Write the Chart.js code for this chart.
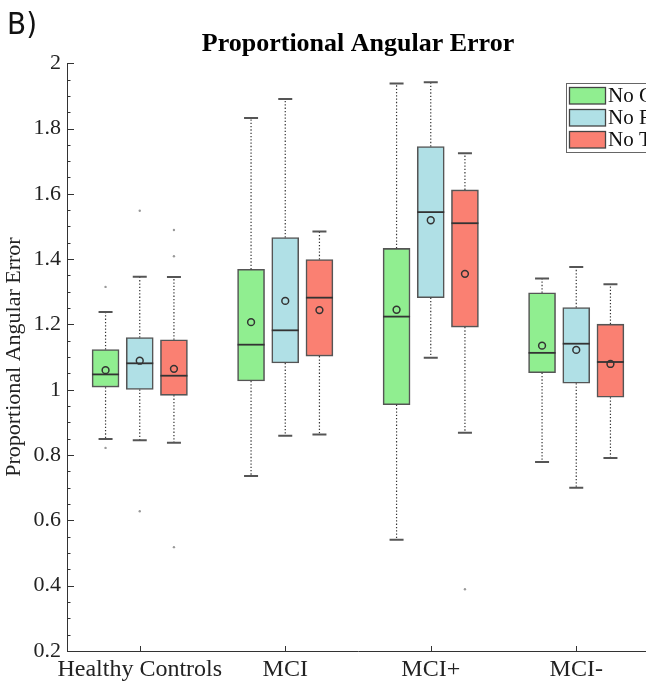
<!DOCTYPE html>
<html>
<head>
<meta charset="utf-8">
<script src="https://cdn.jsdelivr.net/npm/chart.js@4.4.1/dist/chart.umd.min.js"></script>
<style>
  html, body { margin: 0; padding: 0; background: #fff; overflow: hidden; }
  #wrap { width: 652px; height: 684px; }
</style>
</head>
<body>
<div id="wrap"><canvas id="chart"></canvas></div>
<script>
const GROUPS = ["Healthy Controls", "MCI", "MCI+", "MCI-"];
const CONDITIONS = ["No Change", "No Features", "No Texture"];
const COLORS = ["#90EE90", "#B0E0E6", "#FA8072"];
const Y_TICKS = [0.2, 0.4, 0.6, 0.8, 1, 1.2, 1.4, 1.6, 1.8, 2];

// one row per condition, one value per group
const WHISKER_LOW = [
  [0.849, 0.736, 0.541, 0.779],
  [0.845, 0.859, 1.098, 0.700],
  [0.838, 0.863, 0.868, 0.791]
];
const Q1 = [
  [1.008, 1.027, 0.954, 1.052],
  [1.001, 1.082, 1.282, 1.020],
  [0.983, 1.103, 1.192, 0.977]
];
const MEDIAN = [
  [1.047, 1.138, 1.224, 1.113],
  [1.081, 1.182, 1.544, 1.141],
  [1.043, 1.282, 1.510, 1.085]
];
const Q3 = [
  [1.123, 1.369, 1.433, 1.297],
  [1.160, 1.466, 1.745, 1.252],
  [1.153, 1.399, 1.612, 1.201]
];
const WHISKER_HIGH = [
  [1.238, 1.832, 1.938, 1.341],
  [1.346, 1.890, 1.942, 1.376],
  [1.345, 1.485, 1.724, 1.323]
];
const MEAN = [
  [1.060, 1.207, 1.245, 1.135],
  [1.089, 1.272, 1.519, 1.122],
  [1.064, 1.244, 1.355, 1.079]
];
const OUTLIERS = [
  [[1.315, 0.822], [], [], []],
  [[1.548, 0.628], [], [], []],
  [[1.489, 1.409, 0.518], [], [0.389], []]
];

const BOX_STEP = 0.235;   // spacing between boxes inside a group, in x units
const EDGE = "#555";
const INK = "#333";

const boxX = (s, g) => g + 1 + (s - 1) * BOX_STEP;

// whiskers, medians, means and outliers on top of the floating bars
const boxParts = {
  id: "boxParts",
  afterDatasetsDraw(chart) {
    const ctx = chart.ctx, y = chart.scales.y;
    ctx.save();
    chart.data.datasets.forEach((ds, s) => {
      chart.getDatasetMeta(s).data.forEach((bar, g) => {
        const cx = bar.x, half = bar.width / 2;
        const yq1 = y.getPixelForValue(Q1[s][g]), yq3 = y.getPixelForValue(Q3[s][g]);
        const ylo = y.getPixelForValue(WHISKER_LOW[s][g]), yhi = y.getPixelForValue(WHISKER_HIGH[s][g]);

        ctx.strokeStyle = INK; ctx.lineWidth = 1.2; ctx.setLineDash([1.3, 2]);
        ctx.beginPath();
        ctx.moveTo(cx, yq3); ctx.lineTo(cx, yhi);
        ctx.moveTo(cx, yq1); ctx.lineTo(cx, ylo);
        ctx.stroke();
        ctx.setLineDash([]);

        ctx.strokeStyle = EDGE; ctx.lineWidth = 2;
        ctx.beginPath();
        ctx.moveTo(cx - 7, yhi); ctx.lineTo(cx + 7, yhi);
        ctx.moveTo(cx - 7, ylo); ctx.lineTo(cx + 7, ylo);
        ctx.stroke();

        const ym = y.getPixelForValue(MEDIAN[s][g]);
        ctx.strokeStyle = INK; ctx.lineWidth = 1.8;
        ctx.beginPath(); ctx.moveTo(cx - half, ym); ctx.lineTo(cx + half, ym); ctx.stroke();

        ctx.lineWidth = 1.5;
        ctx.beginPath(); ctx.arc(cx, y.getPixelForValue(MEAN[s][g]), 3.4, 0, Math.PI * 2); ctx.stroke();

        ctx.fillStyle = "#999";
        OUTLIERS[s][g].forEach(v => {
          ctx.beginPath(); ctx.arc(cx, y.getPixelForValue(v), 1.2, 0, Math.PI * 2); ctx.fill();
        });
      });
    });
    ctx.restore();
  }
};

// inward ticks, panel letter and the legend box
const decorations = {
  id: "decorations",
  afterDraw(chart) {
    const ctx = chart.ctx, { x, y } = chart.scales, area = chart.chartArea;
    ctx.save();
    ctx.strokeStyle = INK; ctx.lineWidth = 1;
    ctx.beginPath();
    for (let k = 4; k <= 40; k++) {
      const py = Math.round(y.getPixelForValue(k * 0.05)) + 0.5;
      ctx.moveTo(area.left, py); ctx.lineTo(area.left + (k % 4 === 0 ? 7 : 3.5), py);
    }
    GROUPS.forEach((_, g) => {
      const px = Math.round(x.getPixelForValue(g + 1)) + 0.5;
      ctx.moveTo(px, area.bottom); ctx.lineTo(px, area.bottom - 5);
    });
    ctx.stroke();

    ctx.fillStyle = "#111";
    ctx.font = "31px 'Liberation Sans Narrow', 'DejaVu Sans Condensed', sans-serif";
    ctx.textBaseline = "alphabetic";
    ctx.fillText("B)", 7, 34);

    const lx = 566, ly = 83, row = 22;
    ctx.fillStyle = "#fff"; ctx.fillRect(lx, ly, 120, 69);
    ctx.strokeStyle = "#666"; ctx.lineWidth = 1;
    ctx.strokeRect(lx + 0.5, ly + 0.5, 120, 69);
    ctx.font = "21px 'Liberation Serif', serif";
    ctx.textBaseline = "middle";
    CONDITIONS.forEach((name, s) => {
      const ry = ly + 4.5 + s * row;
      ctx.fillStyle = COLORS[s]; ctx.fillRect(lx + 3.5, ry, 36, 16.5);
      ctx.strokeStyle = "#444"; ctx.lineWidth = 1.3; ctx.strokeRect(lx + 3.5, ry, 36, 16.5);
      ctx.fillStyle = "#111"; ctx.fillText(name, lx + 42, ry + 9);
    });
    ctx.restore();
  }
};

new Chart(document.getElementById("chart"), {
  type: "bar",
  data: {
    datasets: CONDITIONS.map((name, s) => ({
      label: name,
      data: GROUPS.map((_, g) => ({ x: boxX(s, g), y: [Q1[s][g], Q3[s][g]] })),
      backgroundColor: COLORS[s],
      borderColor: EDGE,
      borderWidth: 1.6,
      borderSkipped: false,
      barThickness: 27,
      grouped: false
    }))
  },
  plugins: [boxParts, decorations],
  options: {
    responsive: true,
    maintainAspectRatio: false,
    animation: false,
    layout: { padding: { left: 0, right: 3, top: 0, bottom: 0 } },
    plugins: {
      legend: { display: false },
      tooltip: { enabled: false },
      title: {
        display: true,
        text: "Proportional Angular Error",
        fullSize: false,
        color: "#000",
        font: { family: "'Liberation Serif', serif", size: 26, weight: "bold" },
        padding: { top: 29, bottom: 3 }
      }
    },
    scales: {
      x: {
        type: "linear",
        min: 0.5, max: 4.5,
        offset: false,
        grid: { display: false, drawTicks: false },
        border: { display: true, color: INK, width: 1 },
        afterBuildTicks: s => { s.ticks = GROUPS.map((_, g) => ({ value: g + 1 })); },
        afterFit: s => { s.height = 33; },
        ticks: {
          autoSkip: false, maxRotation: 0, padding: 4, color: "#222",
          font: { family: "'Liberation Serif', serif", size: 24 },
          callback: v => GROUPS[v - 1]
        }
      },
      y: {
        min: 0.2, max: 2,
        grid: { display: false, drawTicks: false },
        border: { display: true, color: INK, width: 1 },
        afterBuildTicks: s => { s.ticks = Y_TICKS.map(v => ({ value: v })); },
        afterFit: s => { s.width = 67; },
        ticks: {
          padding: 6, color: "#222",
          font: { family: "'Liberation Serif', serif", size: 22 },
          callback: v => String(v)
        },
        title: {
          display: true,
          text: "Proportional Angular Error",
          color: "#222",
          font: { family: "'Liberation Serif', serif", size: 22 },
          padding: { top: 1, bottom: 0 }
        }
      }
    }
  }
});
</script>
</body>
</html>
